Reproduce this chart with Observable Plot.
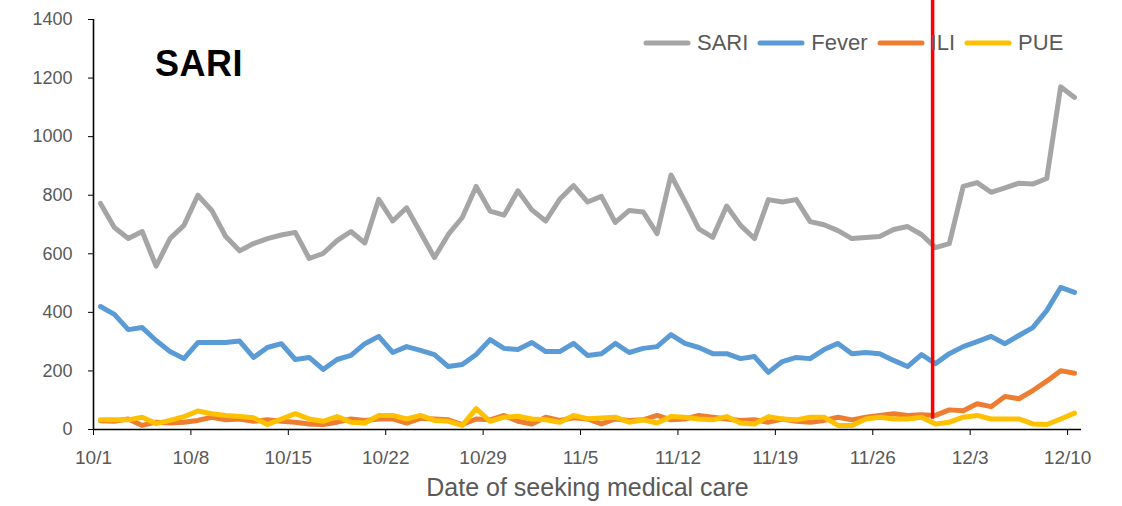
<!DOCTYPE html>
<html>
<head>
<meta charset="utf-8">
<script src="https://cdn.jsdelivr.net/npm/d3@7"></script>
<script src="https://cdn.jsdelivr.net/npm/@observablehq/plot@0.6"></script>
<style>
  html, body { margin: 0; padding: 0; background: #fff; }
  #wrap { position: relative; width: 1122px; height: 506px; font-family: "Liberation Sans", Arial, sans-serif; }
  #title { position: absolute; left: 155px; top: 46px; font-size: 36px; font-weight: bold; line-height: 1; color: #000; letter-spacing: 0.5px; }
  #legend { position: absolute; left: 643px; top: 32px; display: flex; align-items: center; font-size: 22px; line-height: 22px; color: #595959; }
  #legend .item { display: flex; align-items: center; margin-right: 9px; }
  #legend svg { margin-right: 6px; }
</style>
</head>
<body>
<div id="wrap">
  <div id="chart"></div>
  <div id="title">SARI</div>
  <div id="legend"></div>
</div>
<script>
// Daily counts, 10/1 .. 12/10 (71 days)
const sari = [772,690,652,676,558,652,697,800,748,659,
              610,635,652,664,673,584,601,645,676,637,
              786,712,757,673,587,666,724,830,746,732,
              815,750,712,786,833,777,796,707,748,743,
              669,869,779,685,656,763,697,652,785,777,
              785,710,699,679,652,656,659,683,693,666,
              621,635,830,843,810,825,841,838,857,1170,1134];
const fever = [420,393,341,348,304,266,242,297,297,297,
               302,246,280,293,239,246,205,239,253,293,
               318,263,283,270,256,215,222,256,307,277,
               273,297,266,266,294,253,259,294,263,277,
               283,324,294,280,259,259,242,249,195,232,
               246,242,273,294,259,263,259,236,215,256,
               225,259,283,300,318,293,321,348,406,485,468];
const ili = [30,28,36,14,25,22,25,31,42,33,
             36,28,33,28,25,19,17,25,36,31,
             36,36,22,38,36,33,17,36,33,48,
             28,19,42,31,40,36,19,36,31,33,
             48,33,36,48,42,36,31,33,25,36,
             28,25,31,42,33,42,48,54,48,50,
             48,67,64,88,78,113,105,133,165,201,192];
const pue = [33,33,33,42,20,31,44,63,54,48,
             44,40,17,36,54,36,28,44,25,22,
             48,48,36,48,31,28,14,71,28,42,
             45,36,33,25,48,37,39,42,25,33,
             22,44,42,36,33,44,22,19,44,36,
             33,42,42,14,14,36,42,36,36,42,
             19,25,42,48,36,36,36,19,17,36,56];
const tickLabels = ["10/1","10/8","10/15","10/22","10/29","11/5","11/12","11/19","11/26","12/3","12/10"];
const seriesNames = ["SARI","Fever","ILI","PUE"];
const seriesColors = ["#A5A5A5","#5B9BD5","#ED7D31","#FFC000"];
const markerDay = 60.3;      // red reference line (around 11/30)
const yTicks = [0,200,400,600,800,1000,1200,1400];

const seriesValues = [sari, fever, ili, pue];
const rows = [];
seriesNames.forEach((name, s) => {
  seriesValues[s].forEach((v, i) => rows.push({series: name, day: i + 0.5, value: v}));
});
const tickDays = tickLabels.map((_, k) => k * 7);

const plot = Plot.plot({
  width: 1122,
  height: 506,
  marginLeft: 93,
  marginRight: 41,
  marginTop: 19,
  marginBottom: 77,
  style: {fontFamily: "'Liberation Sans', Arial, sans-serif", color: "#000", background: "#fff", overflow: "visible"},
  x: {domain: [0, 71]},
  y: {domain: [0, 1400]},
  color: {domain: seriesNames, range: seriesColors},
  marks: [
    Plot.axisY({ticks: yTicks, tickSize: 5, tickPadding: 16, fontSize: 18, fill: "#595959", stroke: "#000", label: null, tickFormat: d => String(d)}),
    Plot.axisX({ticks: tickDays, tickSize: 6, tickPadding: 15, fontSize: 19, fill: "#595959", stroke: "#000", label: null,
                tickFormat: d => tickLabels[d / 7]}),
    ...seriesNames.map(name => Plot.line(rows.filter(r => r.series === name), {
      x: "day", y: "value", stroke: "series", strokeWidth: 5, strokeLinejoin: "round", strokeLinecap: "round"
    })),
    Plot.ruleY([0], {stroke: "#000", strokeWidth: 1.6}),
    Plot.ruleX([0], {stroke: "#000", strokeWidth: 1.6}),
    Plot.ruleX([markerDay], {y1: 35, y2: 1466, stroke: "#FF0000", strokeWidth: 3.5}),
    Plot.text(["Date of seeking medical care"], {frameAnchor: "bottom", dy: 66, fontSize: 25, fill: "#595959"})
  ]
});
document.getElementById("chart").appendChild(plot);

const legend = document.getElementById("legend");
seriesNames.forEach((name, s) => {
  const item = document.createElement("div");
  item.className = "item";
  item.innerHTML = `<svg width="48" height="12"><line x1="3" x2="45" y1="6" y2="6" stroke="${seriesColors[s]}" stroke-width="5" stroke-linecap="round"/></svg><span>${name}</span>`;
  legend.appendChild(item);
});
</script>
</body>
</html>
